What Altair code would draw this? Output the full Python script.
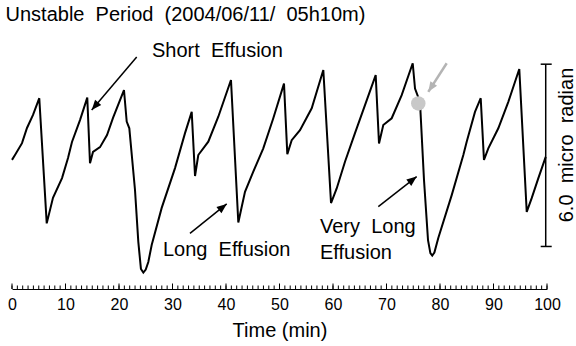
import altair as alt
import pandas as pd

FONT = "Liberation Sans"

# ---- tilt record (time in minutes, tilt in micro radian) ----
time_min = [0.0, 0.56, 1.87, 2.80, 3.93, 5.10, 6.49, 7.66, 9.35, 10.47, 11.21, 12.71,
            14.07, 14.58, 15.14, 16.45, 17.76, 18.88, 20.93, 21.44, 21.93, 22.99, 23.61,
            24.10, 24.55, 25.00, 25.48, 26.11, 27.98, 30.47, 32.34, 33.59, 34.21, 34.82, 36.69,
            38.56, 40.93, 42.30, 43.55, 45.10, 46.97, 48.84, 50.84, 51.46, 52.28, 53.83,
            56.02, 58.19, 59.63, 60.69, 62.24, 64.11, 65.98, 67.98, 68.60, 69.40, 70.97,
            72.84, 74.90, 75.33, 76.26, 77.01, 77.76, 78.20, 78.55, 78.95, 79.68, 82.19, 84.36,
            84.99, 86.54, 87.61, 88.22, 89.03, 90.90, 92.77, 94.82, 96.21, 97.14, 98.37,
            99.76]
tilt_urad = [2.85, 3.01, 3.40, 3.90, 4.33, 4.88, 0.76, 1.60, 2.25, 2.91, 3.44, 4.16,
             4.90, 2.74, 3.11, 3.27, 3.67, 4.23, 5.15, 4.11, 3.89, 1.86, 0.15,
             -0.74, -0.86, -0.76, -0.51, 0.05, 1.27, 2.58, 3.73, 4.43, 2.32, 3.01, 3.45,
             4.27, 5.48, 0.79, 1.80, 2.46, 3.23, 4.22, 5.36, 3.04, 3.50, 3.83,
             4.55, 5.81, 1.43, 1.91, 2.79, 3.73, 4.65, 5.64, 3.39, 4.00, 4.22,
             4.98, 6.03, 5.20, 4.76, 2.19, 0.21, -0.22, -0.30, -0.20, 0.28, 1.69, 3.01,
             3.45, 4.43, 4.88, 2.85, 3.23, 3.89, 4.76, 5.84, 1.14, 1.59, 2.24,
             2.95]

# ---- axis ticks ----
major_ticks = [0, 10, 20, 30, 40, 50, 60, 70, 80, 90, 100]
minor_ticks = list(range(0, 101))

# ---- annotations ----
note_labels = ["Short\u00a0 Effusion", "Long\u00a0 Effusion", "Very\u00a0 Long", "Effusion"]
note_t = [26.17, 28.22, 57.57, 57.57]
note_v = [6.24, -0.30, 0.43, -0.42]

arrow_t1 = [23.31, 33.27, 68.47, 81.25]
arrow_v1 = [6.24, 0.43, 1.31, 6.03]
arrow_t2 = [14.90, 40.13, 75.64, 77.81]
arrow_v2 = [4.49, 1.40, 2.30, 5.09]
arrow_angle = [220, 51, 52, 213]
arrow_color = ["#000000", "#000000", "#000000", "#b4b4b4"]
arrow_width = [1.5, 1.5, 1.5, 2.5]

marker_t = [75.94]
marker_v = [4.71]

# ---- scale bar ----
bar_t = [99.76]
bar_low = [0.0]
bar_high = [6.0]
bar_cap_t1 = [98.82, 98.82]
bar_cap_t2 = [100.88, 100.88]
bar_cap_v = [0.0, 6.0]
bar_label = ["6.0\u00a0 micro\u00a0 radian"]
bar_label_t = [103.68]
bar_label_v = [3.34]

x_scale = alt.Scale(domain=[0, 100], nice=False, zero=False)
y_scale = alt.Scale(domain=[-1.4, 6.5], nice=False, zero=False)

line_df = pd.DataFrame({"t": time_min, "v": tilt_urad})
major_df = pd.DataFrame({"m": major_ticks})
minor_df = pd.DataFrame({"m": minor_ticks})
note_df = pd.DataFrame({"t": note_t, "v": note_v, "label": note_labels})
arrow_df = pd.DataFrame({"t1": arrow_t1, "v1": arrow_v1, "t2": arrow_t2, "v2": arrow_v2,
                         "ang": arrow_angle, "col": arrow_color, "w": arrow_width})
marker_df = pd.DataFrame({"t": marker_t, "v": marker_v})
bar_df = pd.DataFrame({"t": bar_t, "lo": bar_low, "hi": bar_high})
cap_df = pd.DataFrame({"t1": bar_cap_t1, "t2": bar_cap_t2, "v": bar_cap_v})
bar_label_df = pd.DataFrame({"t": bar_label_t, "v": bar_label_v, "label": bar_label})

x_axis = alt.Axis(values=major_ticks, title="Time (min)", ticks=False, tickSize=0,
                  grid=False, domain=True, domainColor="black", domainWidth=1,
                  labelFont=FONT, labelFontSize=16, labelColor="black", labelPadding=7,
                  labelFlush=False,
                  titleFont=FONT, titleFontSize=20, titleFontWeight="normal",
                  titleColor="black", titlePadding=8)

line = alt.Chart(line_df).mark_line(color="black", strokeWidth=2).encode(
    x=alt.X("t:Q", scale=x_scale, axis=x_axis),
    y=alt.Y("v:Q", scale=y_scale, axis=None),
)

minor = alt.Chart(minor_df).mark_rule(color="black", strokeWidth=1).encode(
    x=alt.X("m:Q", scale=x_scale), y=alt.value(240), y2=alt.value(236.5)
)
major = alt.Chart(major_df).mark_rule(color="black", strokeWidth=1).encode(
    x=alt.X("m:Q", scale=x_scale), y=alt.value(240), y2=alt.value(234.5)
)

notes = alt.Chart(note_df).mark_text(align="left", baseline="alphabetic", font=FONT,
                                     fontSize=20, color="black").encode(
    x=alt.X("t:Q", scale=x_scale), y=alt.Y("v:Q", scale=y_scale), text="label:N"
)

arrows = alt.Chart(arrow_df).mark_rule().encode(
    x=alt.X("t1:Q", scale=x_scale), y=alt.Y("v1:Q", scale=y_scale),
    x2="t2:Q", y2="v2:Q",
    color=alt.Color("col:N", scale=None),
    strokeWidth=alt.StrokeWidth("w:Q", scale=None),
)

heads = alt.Chart(arrow_df).mark_point(filled=True, opacity=1,
                                       shape="M0,0L-0.4,1L0.4,1Z", size=400).encode(
    x=alt.X("t2:Q", scale=x_scale), y=alt.Y("v2:Q", scale=y_scale),
    angle=alt.Angle("ang:Q", scale=None),
    color=alt.Color("col:N", scale=None),
)

marker = alt.Chart(marker_df).mark_circle(size=210, color="#c8c8c8", opacity=1).encode(
    x=alt.X("t:Q", scale=x_scale), y=alt.Y("v:Q", scale=y_scale)
)

bar = alt.Chart(bar_df).mark_rule(color="black", strokeWidth=1.5).encode(
    x=alt.X("t:Q", scale=x_scale), y=alt.Y("lo:Q", scale=y_scale), y2="hi:Q"
)
caps = alt.Chart(cap_df).mark_rule(color="black", strokeWidth=1.5).encode(
    x=alt.X("t1:Q", scale=x_scale), x2="t2:Q", y=alt.Y("v:Q", scale=y_scale)
)
bar_text = alt.Chart(bar_label_df).mark_text(angle=270, align="center", baseline="middle",
                                             font=FONT, fontSize=20, color="black").encode(
    x=alt.X("t:Q", scale=x_scale), y=alt.Y("v:Q", scale=y_scale), text="label:N"
)

chart = alt.layer(
    minor, major, line, marker, arrows, heads, notes, bar, caps, bar_text
).properties(
    width=535, height=240,
    title=alt.TitleParams("Unstable\u00a0 Period\u00a0 (2004/06/11/\u00a0 05h10m)",
                          anchor="start", font=FONT, fontSize=20, fontWeight="normal",
                          color="black", offset=16, dx=-2),
    autosize=alt.AutoSizeParams(type="none"),
    padding={"left": 12, "top": 49, "right": 29, "bottom": 57},
    background="white",
).configure_view(stroke=None)

chart.save("out.html", embed_options={"renderer": "svg", "actions": False})
